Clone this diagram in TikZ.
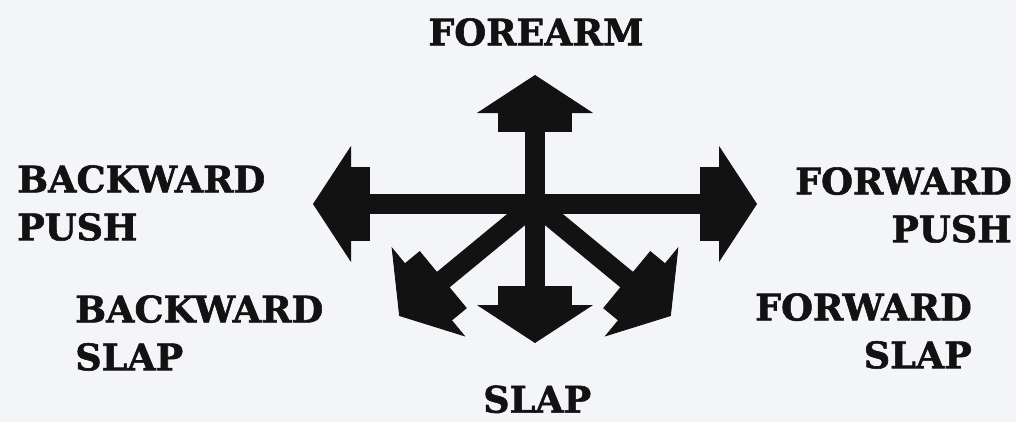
\documentclass[tikz,border=0pt]{standalone}
\usepackage{fontspec}
\setmainfont{DejaVu Serif}
\newfontfamily\heavyfont{DejaVu Serif}[UprightFont={DejaVu Serif Bold}, FakeBold=1.6]
\usepackage{xcolor}
\usetikzlibrary{positioning, arrows.meta}

\definecolor{paper}{RGB}{244,245,248}
\definecolor{ink}{RGB}{18,18,18}

\begin{document}
\begin{tikzpicture}[
    word/.style={
        inner sep=0pt,
        text=ink,
        font=\fontsize{26}{34}\selectfont\heavyfont
    },
    arrow/.style={
        draw=ink,
        line width=0.5cm,
        -{Rectangle[length=0.5cm, width=1.85cm, sep=-0.6pt, line width=0.6pt]
          Triangle[length=0.95cm, width=2.9cm, sep=0pt, line width=0.6pt]}
    }
]

% Page
\fill [paper] (0,0) rectangle (25.4,10.55);
\useasboundingbox (0,0) rectangle (25.4,10.55);

% Hub and arrow ends
\coordinate (c) at (13.375,5.45);
\coordinate (t1) at (13.375,8.675);
\coordinate (t2) at (7.825,5.45);
\coordinate (t3) at (18.925,5.45);
\coordinate (t4) at ([shift={(219.5:4.4)}]c);
\coordinate (t5) at ([shift={(-39.5:4.4)}]c);
\coordinate (t6) at (13.375,1.975);

% Labels
\node (n1) at (13.4,10.1) [word, anchor=north] {FOREARM};
\node (n2) at (0.425,6.425) [word, anchor=north west, align=left] {BACKWARD\\PUSH};
\node (n3) at (25.3,6.375) [word, anchor=north east, align=right] {FORWARD\\PUSH};
\node (n4) at (1.875,3.175) [word, anchor=north west, align=left] {BACKWARD\\SLAP};
\node (n5) at (24.3,3.225) [word, anchor=north east, align=right] {FORWARD\\SLAP};
\node (n6) at (13.43,0.92) [word, anchor=north] {SLAP};

% Arrows out of the hub
\draw [arrow] (c) -- (t1);
\draw [arrow] (c) -- (t2);
\draw [arrow] (c) -- (t3);
\draw [arrow] (c) -- (t4);
\draw [arrow] (c) -- (t5);
\draw [arrow] (c) -- (t6);

\end{tikzpicture}
\end{document}
